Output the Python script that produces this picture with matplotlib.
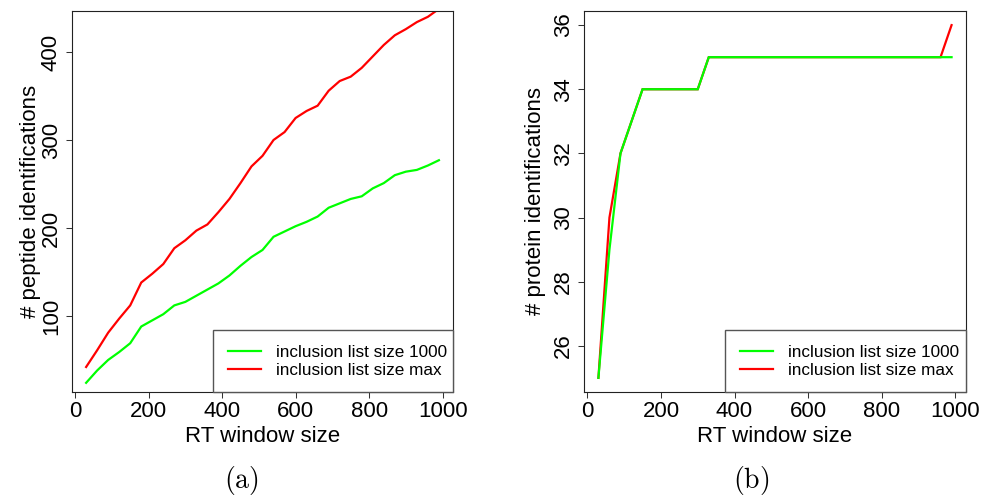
import matplotlib
matplotlib.use('Agg')
import matplotlib.pyplot as plt
from matplotlib.patches import Rectangle
from matplotlib.lines import Line2D

plt.rcParams['font.family'] = ['Liberation Sans', 'DejaVu Sans']
plt.rcParams['mathtext.fontset'] = 'cm'

# RT window sizes (30 .. 990)
rt_window = [30, 60, 90, 120, 150, 180, 210, 240, 270, 300, 330, 360, 390, 420, 450,
             480, 510, 540, 570, 600, 630, 660, 690, 720, 750, 780, 810, 840, 870,
             900, 930, 960, 990]

# panel (a): peptide identifications
pep_1000 = [24, 38, 50, 59, 69, 88, 95, 102, 112, 116, 123, 130, 137, 146, 157,
            167, 175, 190, 196, 202, 207, 213, 223, 228, 233, 236, 245, 251, 260,
            264, 266, 271, 277]
pep_max = [42, 61, 81, 97, 112, 138, 148, 159, 177, 186, 197, 204, 218, 233, 251,
           270, 282, 300, 309, 325, 333, 339, 356, 367, 372, 382, 395, 408, 419,
           426, 434, 440, 449]

# panel (b): protein identifications
prot_1000 = [25, 29, 32, 33, 34, 34, 34, 34, 34, 34, 35, 35, 35, 35, 35,
             35, 35, 35, 35, 35, 35, 35, 35, 35, 35, 35, 35, 35, 35,
             35, 35, 35, 35]
prot_max = [25, 30, 32, 33, 34, 34, 34, 34, 34, 34, 35, 35, 35, 35, 35,
            35, 35, 35, 35, 35, 35, 35, 35, 35, 35, 35, 35, 35, 35,
            35, 35, 35, 36]

legend_labels = ['inclusion list size 1000', 'inclusion list size max']
x_ticks = [0, 200, 400, 600, 800, 1000]
GREEN = '#00ff00'
RED = '#ff0000'


def DrawPanel(ax, y_green, y_red, ylabel, yticks, ylim, ylabel_x):
  # red first so green lies on top where they coincide
  ax.plot(rt_window, y_red, color=RED, lw=1.6, solid_joinstyle='miter')
  ax.plot(rt_window, y_green, color=GREEN, lw=1.6, solid_joinstyle='miter')
  ax.set_xlim(-8.4, 1028.4)
  ax.set_ylim(*ylim)
  ax.set_xticks(x_ticks)
  ax.set_yticks(yticks)
  ax.set_yticklabels([str(t) for t in yticks], rotation=90, va='center')
  ax.tick_params(axis='both', labelsize=16, length=4.3, width=0.75, color='#333333')
  ax.tick_params(axis='x', pad=2)
  ax.tick_params(axis='y', pad=3)
  for s in ax.spines.values():
    s.set_color('#222222')
    s.set_linewidth(0.8)
  ax.set_xlabel('RT window size', fontsize=16, va='center')
  ax.xaxis.set_label_coords(0.5, -0.118)
  ax.set_ylabel(ylabel, fontsize=16, va='center')
  ax.yaxis.set_label_coords(ylabel_x, 0.5)

  # R-style legend box at bottom right
  ax.add_patch(Rectangle((0.37, 0), 0.63, 0.163, transform=ax.transAxes,
                         facecolor='white', edgecolor='#555555', lw=1, zorder=3,
                         clip_on=False))
  handles = [Line2D([], [], color=GREEN, lw=1.6), Line2D([], [], color=RED, lw=1.6)]
  leg = ax.legend(handles, legend_labels, loc='center left',
                  bbox_to_anchor=(0.37 + 15 / 381, 0.08), frameon=False,
                  fontsize=12.3, borderpad=0, borderaxespad=0,
                  handlelength=1.93, handletextpad=0.88, labelspacing=0.12)
  leg.set_zorder(4)


fig = plt.figure(figsize=(9.81, 4.98), dpi=100)
ax1 = fig.add_axes([0.0734, 0.2129, 0.3884, 0.765])
ax2 = fig.add_axes([0.5956, 0.2129, 0.3888, 0.765])

DrawPanel(ax1, pep_1000, pep_max, '# peptide identifications',
          [100, 200, 300, 400], (13.6, 446.6), -0.110)
DrawPanel(ax2, prot_1000, prot_max, '# protein identifications',
          [26, 28, 30, 32, 34, 36], (24.56, 36.44), -0.128)

fig.text(241 / 981, 1 - 480 / 498, r'$\mathrm{(a)}$', fontsize=20,
         ha='center', va='center')
fig.text(751 / 981, 1 - 480 / 498, r'$\mathrm{(b)}$', fontsize=20,
         ha='center', va='center')

fig.savefig('out.png', dpi=100)
